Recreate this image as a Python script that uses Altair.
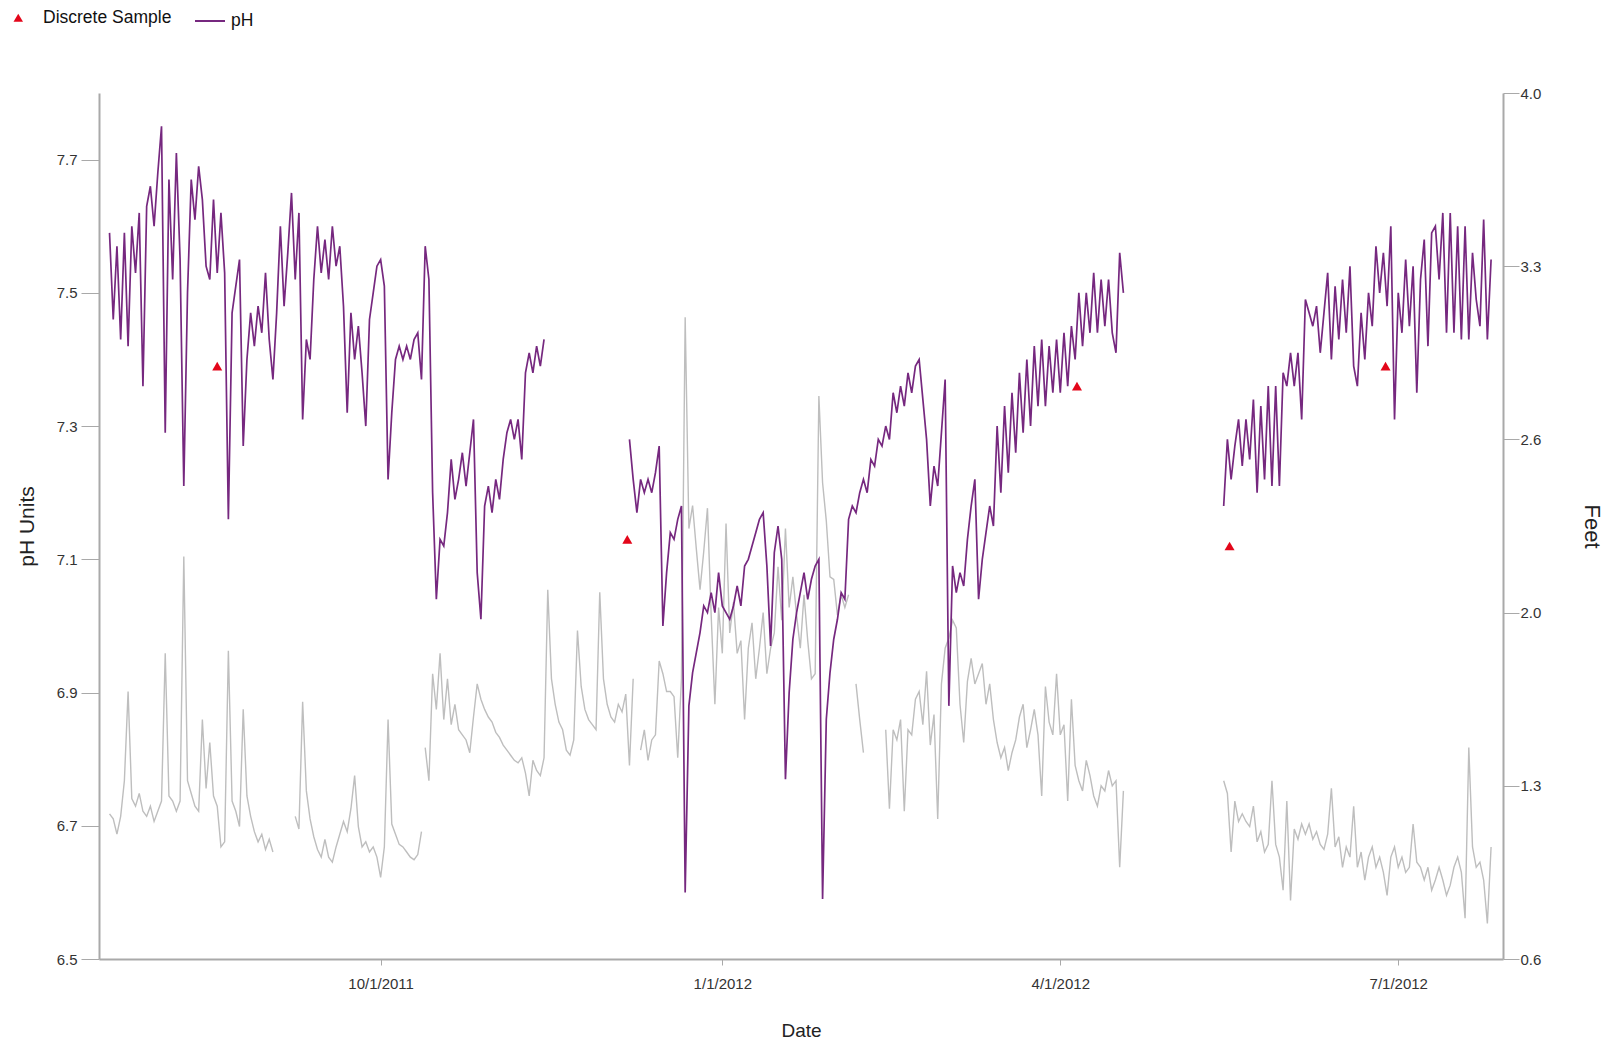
import altair as alt
import pandas as pd

BASE = "2011-10-01"

# ---- continuous pH record (purple), daily readings, days counted from BASE ----
ph_starts = [-73, 67, 227]
ph_a = [7.59, 7.46, 7.57, 7.43, 7.59, 7.42, 7.60, 7.53, 7.62, 7.36,
        7.63, 7.66, 7.60, 7.68, 7.75, 7.29, 7.67, 7.52, 7.71, 7.55,
        7.21, 7.50, 7.67, 7.61, 7.69, 7.64, 7.54, 7.52, 7.64, 7.53,
        7.62, 7.53, 7.16, 7.47, 7.51, 7.55, 7.27, 7.40, 7.47, 7.42,
        7.48, 7.44, 7.53, 7.43, 7.37, 7.47, 7.60, 7.48, 7.56, 7.65,
        7.52, 7.62, 7.31, 7.43, 7.40, 7.52, 7.60, 7.53, 7.58, 7.52,
        7.60, 7.54, 7.57, 7.48, 7.32, 7.47, 7.40, 7.45, 7.38, 7.30,
        7.46, 7.50, 7.54, 7.55, 7.51, 7.22, 7.32, 7.40, 7.42, 7.40,
        7.42, 7.40, 7.43, 7.44, 7.37, 7.57, 7.52, 7.20, 7.04, 7.13,
        7.12, 7.17, 7.25, 7.19, 7.22, 7.26, 7.21, 7.26, 7.31, 7.08,
        7.01, 7.18, 7.21, 7.17, 7.22, 7.19, 7.25, 7.29, 7.31, 7.28,
        7.31, 7.25, 7.38, 7.41, 7.38, 7.42, 7.39, 7.43]
ph_b = [7.28, 7.22, 7.17, 7.22, 7.20, 7.22, 7.20, 7.23, 7.27, 7.00,
        7.08, 7.14, 7.13, 7.16, 7.18, 6.60, 6.88, 6.93, 6.96, 6.99,
        7.03, 7.02, 7.05, 7.02, 7.08, 7.03, 7.02, 7.01, 7.03, 7.06,
        7.03, 7.09, 7.10, 7.12, 7.14, 7.16, 7.17, 7.09, 6.97, 7.11,
        7.15, 7.10, 6.77, 6.90, 6.98, 7.02, 7.05, 7.08, 7.04, 7.07,
        7.09, 7.10, 6.59, 6.86, 6.93, 6.98, 7.01, 7.05, 7.04, 7.16,
        7.18, 7.17, 7.20, 7.22, 7.20, 7.25, 7.24, 7.28, 7.27, 7.30,
        7.28, 7.35, 7.32, 7.36, 7.33, 7.38, 7.35, 7.39, 7.40, 7.34,
        7.28, 7.18, 7.24, 7.21, 7.29, 7.37, 6.88, 7.09, 7.05, 7.08,
        7.06, 7.13, 7.18, 7.22, 7.04, 7.10, 7.14, 7.18, 7.15, 7.30,
        7.20, 7.33, 7.23, 7.35, 7.26, 7.38, 7.29, 7.40, 7.30, 7.42,
        7.33, 7.43, 7.33, 7.42, 7.35, 7.43, 7.35, 7.44, 7.36, 7.45,
        7.40, 7.50, 7.42, 7.50, 7.44, 7.53, 7.44, 7.52, 7.45, 7.52,
        7.44, 7.41, 7.56, 7.50]
ph_c = [7.18, 7.28, 7.22, 7.27, 7.31, 7.24, 7.31, 7.25, 7.34, 7.20,
        7.33, 7.22, 7.36, 7.21, 7.36, 7.21, 7.38, 7.36, 7.41, 7.36,
        7.41, 7.31, 7.49, 7.47, 7.45, 7.48, 7.41, 7.47, 7.53, 7.40,
        7.51, 7.43, 7.52, 7.44, 7.54, 7.39, 7.36, 7.47, 7.40, 7.50,
        7.45, 7.57, 7.50, 7.56, 7.48, 7.60, 7.31, 7.50, 7.44, 7.55,
        7.45, 7.54, 7.35, 7.52, 7.58, 7.42, 7.59, 7.60, 7.52, 7.62,
        7.44, 7.62, 7.44, 7.60, 7.43, 7.60, 7.43, 7.56, 7.49, 7.45,
        7.61, 7.43, 7.55]

# ---- gage height in feet (grey, right axis), daily readings ----
ft_starts = [-73, -23, 12, 70, 128, 136, 227]
ft_1 = [1.17, 1.15, 1.09, 1.16, 1.30, 1.65, 1.23, 1.20, 1.25, 1.18,
        1.16, 1.20, 1.14, 1.18, 1.22, 1.80, 1.24, 1.22, 1.18, 1.22,
        2.18, 1.30, 1.25, 1.20, 1.18, 1.54, 1.27, 1.45, 1.24, 1.20,
        1.04, 1.06, 1.81, 1.22, 1.18, 1.12, 1.58, 1.24, 1.16, 1.10,
        1.06, 1.09, 1.03, 1.07, 1.02]
ft_2 = [1.16, 1.11, 1.61, 1.26, 1.15, 1.08, 1.03, 1.00, 1.07, 1.00,
        0.98, 1.04, 1.09, 1.14, 1.10, 1.19, 1.32, 1.12, 1.04, 1.06,
        1.02, 1.04, 1.00, 0.92, 1.04, 1.54, 1.13, 1.09, 1.05, 1.04,
        1.02, 1.00, 0.99, 1.01, 1.10]
ft_3 = [1.43, 1.30, 1.72, 1.58, 1.80, 1.54, 1.70, 1.52, 1.60, 1.50,
        1.48, 1.46, 1.41, 1.55, 1.68, 1.62, 1.58, 1.55, 1.53, 1.49,
        1.47, 1.44, 1.42, 1.40, 1.38, 1.37, 1.39, 1.33, 1.24, 1.38,
        1.34, 1.32, 1.39, 2.05, 1.70, 1.60, 1.53, 1.50, 1.42, 1.40,
        1.46, 1.89, 1.67, 1.58, 1.54, 1.52, 1.50, 2.04, 1.70, 1.60,
        1.55, 1.53, 1.60, 1.57, 1.64, 1.36, 1.70]
ft_4 = [1.42, 1.50, 1.38, 1.46, 1.48, 1.77, 1.72, 1.65, 1.65, 1.63,
        1.39, 1.70, 3.12, 2.29, 2.38, 2.21, 2.05, 2.20, 2.37, 1.95,
        1.60, 1.98, 1.80, 2.31, 1.88, 2.00, 1.80, 1.85, 1.54, 1.82,
        1.92, 1.70, 1.82, 1.96, 1.72, 1.82, 1.88, 2.14, 1.93, 2.29,
        1.98, 2.10, 1.95, 1.82, 2.03, 1.85, 1.70, 1.72, 2.81, 2.47,
        2.32, 2.10, 2.09, 1.95, 2.03, 1.98, 2.03]
ft_5 = [1.68, 1.54, 1.41]
ft_6 = [1.50, 1.19, 1.50, 1.46, 1.54, 1.18, 1.50, 1.48, 1.62, 1.65,
        1.52, 1.73, 1.44, 1.56, 1.15, 1.68, 1.82, 1.86, 1.93, 1.90,
        1.60, 1.45, 1.69, 1.78, 1.68, 1.72, 1.76, 1.60, 1.68, 1.54,
        1.45, 1.39, 1.43, 1.34, 1.41, 1.46, 1.55, 1.60, 1.43, 1.50,
        1.58, 1.48, 1.24, 1.67, 1.53, 1.48, 1.72, 1.48, 1.52, 1.22,
        1.62, 1.36, 1.30, 1.26, 1.38, 1.32, 1.24, 1.20, 1.28, 1.26,
        1.34, 1.28, 1.30, 0.96, 1.26]
ft_7 = [1.30, 1.25, 1.02, 1.22, 1.14, 1.17, 1.14, 1.12, 1.20, 1.06,
        1.10, 1.02, 1.05, 1.30, 1.05, 1.00, 0.87, 1.22, 0.83, 1.11,
        1.07, 1.13, 1.09, 1.13, 1.07, 1.10, 1.05, 1.03, 1.09, 1.27,
        1.04, 1.08, 0.96, 1.04, 1.00, 1.20, 0.96, 1.02, 0.91, 1.00,
        1.04, 0.96, 1.00, 0.94, 0.85, 1.00, 1.04, 0.96, 1.00, 0.94,
        0.96, 1.13, 0.98, 0.96, 0.91, 0.96, 0.87, 0.91, 0.96, 0.91,
        0.85, 0.89, 0.96, 1.00, 0.94, 0.76, 1.43, 1.04, 0.96, 0.98,
        0.91, 0.74, 1.04]

# ---- discrete samples (red triangles) ----
sample_dates = ["2011-08-18T00:00:00", "2011-12-06T10:00:00", "2012-04-05T12:00:00",
                "2012-05-16T14:00:00", "2012-06-27T14:00:00"]
sample_ph = [7.39, 7.13, 7.36, 7.12, 7.39]

ph_ticks = [6.5, 6.7, 6.9, 7.1, 7.3, 7.5, 7.7]
ft_ticks = [0.6, 1.28, 1.96, 2.64, 3.32, 4.0]

PURPLE = "#76287F"
GREY = "#BEBEBE"
RED = "#E3061A"
AX = "#A9A9A9"
FONT = "Liberation Sans, Arial, sans-serif"


def build(starts, segs, series):
    rows = []
    base = pd.Timestamp(BASE)
    for i, (s, vals) in enumerate(zip(starts, segs)):
        for k, v in enumerate(vals):
            t = base + pd.Timedelta(days=s + k)
            rows.append({"date": t.strftime("%Y-%m-%dT%H:%M:%S"), "value": v,
                         "seg": i, "series": series})
    return pd.DataFrame(rows)


ph_df = build(ph_starts, [ph_a, ph_b, ph_c], "pH")
ft_df = build(ft_starts, [ft_1, ft_2, ft_3, ft_4, ft_5, ft_6, ft_7], "Feet")
samp_df = pd.DataFrame({"date": sample_dates, "value": sample_ph,
                        "kind": ["Discrete Sample"] * len(sample_ph)})

W, H = 1404, 866

x_enc = alt.X(
    "date:T",
    title="Date",
    scale=alt.Scale(domain=[alt.DateTime(year=2011, month=7, date=17, hours=4),
                            alt.DateTime(year=2012, month=7, date=29, hours=5)],
                    nice=False),
    axis=alt.Axis(
        values=[alt.DateTime(year=2011, month=10, date=1),
                alt.DateTime(year=2012, month=1, date=1),
                alt.DateTime(year=2012, month=4, date=1),
                alt.DateTime(year=2012, month=7, date=1)],
        format="%-m/%-d/%Y", tickSize=6, labelPadding=11,
        labelFontSize=15, labelAngle=0,
        titleFontSize=19, titleFontWeight="normal",
        titleX=W / 2, titleY=71, titleBaseline="middle", titleAlign="center",
        grid=False),
)

ph_scale = alt.Scale(domain=[6.5, 7.8], nice=False, zero=False)

gray = alt.Chart(ft_df).mark_line(color=GREY, strokeWidth=1.4).encode(
    x=x_enc,
    y=alt.Y("value:Q",
            scale=alt.Scale(domain=[0.6, 4.0], nice=False, zero=False),
            axis=alt.Axis(orient="right", values=ft_ticks, format=".1f",
                          title="Feet", tickSize=16, labelPadding=1,
                          labelFontSize=15, titleFontSize=22,
                          titleFontWeight="normal", titleAngle=90,
                          titleX=88, titleY=433, titleAlign="center",
                          titleBaseline="middle", grid=False)),
    detail="seg:N",
)

purple = alt.Chart(ph_df).mark_line(strokeWidth=1.7).encode(
    x=x_enc,
    y=alt.Y("value:Q", scale=ph_scale,
            axis=alt.Axis(orient="left", values=ph_ticks, format=".1f",
                          title="pH Units", tickSize=18, labelPadding=4,
                          labelFontSize=15, titleFontSize=21,
                          titleFontWeight="normal", titleAngle=270,
                          titleX=-72, titleY=433, titleAlign="center",
                          titleBaseline="middle", grid=False)),
    color=alt.Color("series:N",
                    scale=alt.Scale(domain=["pH"], range=[PURPLE]),
                    legend=alt.Legend(title=None, orient="none",
                                      legendX=95, legendY=-88,
                                      symbolType="stroke", symbolSize=900,
                                      symbolStrokeWidth=2, labelOffset=5,
                                      labelFontSize=17.5, labelFont=FONT,
                                      labelColor="#111", padding=0)),
    detail="seg:N",
)

pts = alt.Chart(samp_df).mark_point(filled=True, color=RED, opacity=1,
                                    size=100).encode(
    x=x_enc,
    y=alt.Y("value:Q", scale=ph_scale, axis=None),
    shape=alt.Shape("kind:N",
                    scale=alt.Scale(domain=["Discrete Sample"],
                                    range=["triangle-up"]),
                    legend=alt.Legend(title=None, orient="none",
                                      legendX=-89.5, legendY=-84,
                                      symbolSize=90, symbolFillColor=RED,
                                      symbolStrokeWidth=0, labelOffset=16,
                                      labelFontSize=17.5, labelFont=FONT,
                                      labelColor="#111", padding=0)),
)

chart = alt.layer(gray, purple, pts).resolve_scale(
    y="independent"
).properties(
    width=W, height=H,
    autosize=alt.AutoSizeParams(type="none"),
    padding={"left": 91, "top": 85, "right": 100, "bottom": 88},
    background="white",
).configure_view(stroke=None).configure_axis(
    domainColor=AX, domainWidth=2, tickColor=AX, tickWidth=1,
    labelColor="#333", titleColor="#222", labelFont=FONT, titleFont=FONT,
)

chart.save("out.html", embed_options={"renderer": "svg", "actions": False})
